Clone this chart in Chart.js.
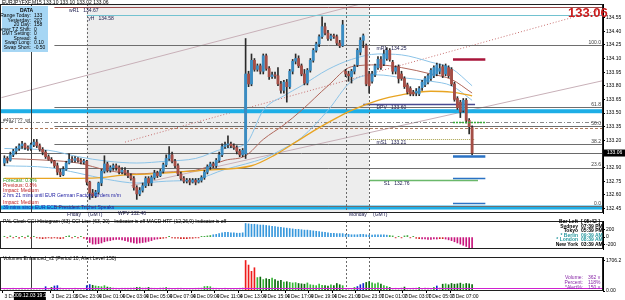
<!DOCTYPE html>
<html><head><meta charset="utf-8">
<script src="https://cdn.jsdelivr.net/npm/chart.js@4.4.1/dist/chart.umd.min.js"></script>
<style>
html,body{margin:0;padding:0;background:#fff;width:625px;height:300px;overflow:hidden;font-family:'Liberation Sans',Arial,sans-serif;}
canvas{position:absolute;left:0;}
.t{position:absolute;white-space:nowrap;font-size:5px;line-height:5px;color:#000;}
#data{position:absolute;left:2px;top:6px;width:46px;height:46px;background:#a6d6f4;}
</style></head><body>
<canvas id="c1" width="625" height="217" style="top:0"></canvas>
<canvas id="c2" width="625" height="36" style="top:217px"></canvas>
<canvas id="c3" width="625" height="47" style="top:253px"></canvas>
<div id="data"></div>
<div id="ov"></div>
<script>
// ---------------- DATA (EURJPY M15, 3 Dec 17:00 -> 7 Dec 08:45 GMT) ----------------
const opens=[132.95,133.00,132.98,133.04,133.08,133.11,133.14,133.16,133.12,133.11,133.15,133.18,133.14,133.10,133.07,133.02,132.99,132.97,132.92,132.85,
132.82,132.88,132.95,132.99,132.98,133.00,132.98,132.96,132.97,132.74,132.62,132.59,132.63,132.73,132.86,132.94,132.87,132.90,132.92,132.90,
132.85,132.87,132.84,132.81,132.78,132.68,132.61,132.65,132.70,132.78,132.73,132.79,132.84,132.81,132.86,132.93,133.00,133.04,132.97,132.92,
132.83,132.78,132.75,132.76,132.74,132.76,132.74,132.76,132.79,132.85,132.91,132.94,132.92,132.98,133.04,133.13,133.15,133.16,133.14,133.12,
133.08,133.04,133.05,133.93,133.82,134.08,133.98,134.02,133.96,134.13,133.99,133.90,133.92,133.91,133.82,133.75,133.84,133.79,133.96,134.07,
134.10,134.02,133.93,133.83,133.97,134.08,134.19,134.26,134.34,134.45,134.38,134.32,134.35,134.34,134.27,134.24,133.96,133.93,133.90,133.96,
134.03,134.17,134.30,134.24,133.93,133.85,133.92,134.00,134.09,134.04,134.10,134.19,134.06,133.96,134.01,133.93,133.88,133.81,133.77,133.73,
133.72,133.71,133.78,133.81,133.84,133.88,133.91,133.93,133.96,134.01,133.93,134.00,133.98,133.82,133.66,133.62,133.53,133.64,133.42,133.34];
const highs=[133.03,133.02,133.07,133.10,133.13,133.16,133.19,133.17,133.14,133.17,133.21,133.21,133.16,133.12,133.09,133.04,133.01,132.98,132.95,132.88,
132.91,132.97,133.05,133.02,133.02,133.01,133.00,132.99,132.98,132.75,132.66,132.65,132.74,132.88,133.03,132.96,132.92,132.94,132.94,132.92,
132.90,132.90,132.87,132.83,132.80,132.70,132.68,132.73,132.80,132.80,132.81,132.87,132.86,132.88,132.95,133.04,133.13,133.07,132.99,132.94,
132.85,132.80,132.78,132.78,132.78,132.78,132.78,132.81,132.87,132.93,132.96,132.96,133.00,133.07,133.16,133.18,133.25,133.18,133.16,133.14,
133.10,133.11,134.32,133.96,134.15,134.10,134.04,134.04,134.15,134.15,134.01,133.95,133.95,134.00,133.85,133.86,133.87,133.98,134.09,134.15,
134.13,134.04,133.98,133.99,134.10,134.21,134.28,134.36,134.56,134.49,134.41,134.37,134.37,134.36,134.30,134.52,133.98,133.96,133.98,134.03,
134.21,134.33,134.37,134.26,133.96,133.96,134.04,134.12,134.12,134.19,134.22,134.21,134.08,134.02,134.03,133.96,133.90,133.83,133.79,133.75,
133.77,133.79,133.86,133.90,133.93,133.99,134.02,134.05,134.04,134.03,134.04,134.02,134.00,133.84,133.68,133.64,133.66,133.66,133.44,133.36];
const lows=[132.92,132.95,132.97,133.02,133.05,133.09,133.11,133.10,133.09,133.09,133.13,133.12,133.08,133.04,133.00,132.98,132.95,132.90,132.82,132.80,
132.81,132.87,132.94,132.96,132.96,132.96,132.94,132.94,132.71,132.55,132.57,132.57,132.61,132.70,132.84,132.85,132.85,132.87,132.87,132.83,
132.83,132.82,132.79,132.76,132.65,132.55,132.59,132.63,132.68,132.70,132.70,132.77,132.79,132.80,132.84,132.91,132.98,132.95,132.90,132.81,
132.76,132.73,132.73,132.71,132.73,132.71,132.73,132.74,132.77,132.83,132.88,132.90,132.90,132.96,133.02,133.11,133.12,133.12,133.10,133.05,
133.02,133.02,133.00,133.79,133.80,133.96,133.96,133.93,133.93,133.97,133.87,133.88,133.88,133.80,133.72,133.72,133.62,133.77,133.93,134.04,
134.00,133.91,133.81,133.81,133.95,134.06,134.17,134.23,134.32,134.36,134.30,134.30,134.32,134.25,134.22,134.23,133.90,133.85,133.83,133.93,
134.01,134.14,134.22,133.80,133.72,133.83,133.90,133.98,133.98,134.02,134.08,134.07,133.93,133.93,133.83,133.86,133.77,133.71,133.69,133.69,
133.69,133.69,133.75,133.79,133.82,133.86,133.89,133.91,133.93,133.89,133.91,133.89,133.80,133.63,133.54,133.45,133.51,133.39,133.27,133.04];
const closes=[133.00,132.98,133.04,133.08,133.11,133.14,133.16,133.12,133.11,133.15,133.18,133.14,133.10,133.07,133.02,132.99,132.97,132.92,132.85,132.82,
132.88,132.95,132.99,132.98,133.00,132.98,132.96,132.97,132.74,132.62,132.59,132.63,132.73,132.86,132.94,132.87,132.90,132.92,132.90,132.85,
132.87,132.84,132.81,132.78,132.68,132.61,132.65,132.70,132.78,132.73,132.79,132.84,132.81,132.86,132.93,133.00,133.04,132.97,132.92,132.83,
132.78,132.75,132.76,132.74,132.76,132.74,132.76,132.79,132.85,132.91,132.94,132.92,132.98,133.04,133.13,133.15,133.16,133.14,133.12,133.08,
133.04,133.09,133.93,133.82,134.08,133.98,134.02,133.96,134.13,133.99,133.90,133.92,133.91,133.82,133.75,133.84,133.79,133.96,134.07,134.10,
134.02,133.93,133.83,133.97,134.08,134.19,134.26,134.34,134.45,134.38,134.32,134.35,134.34,134.27,134.24,134.47,133.93,133.91,133.96,134.01,
134.19,134.30,134.35,133.82,133.80,133.93,134.02,134.09,134.00,134.15,134.19,134.09,133.96,134.00,133.88,133.88,133.79,133.73,133.71,133.71,
133.74,133.77,133.84,133.88,133.91,133.97,134.00,134.03,133.99,133.91,134.02,133.91,133.82,133.65,133.56,133.51,133.64,133.42,133.35,133.06];

// moving averages read at sample candles
const emaIdx=[0,16,33,41,50,67,84,92,99,106,112,118,127,135,145,152,159];
const emaVals=[132.78,132.78,132.79,132.82,132.83,132.87,132.92,133.04,133.18,133.32,133.43,133.53,133.64,133.70,133.74,133.73,133.69];
const bandIdx=[0,15,25,35,45,55,65,75,82,88,95,101,110,118,127,135,145,152,159];
const bandUpper=[133.11,133.09,133.02,132.97,132.95,132.97,133.00,133.11,133.16,133.53,133.69,133.80,133.98,134.09,134.15,134.14,134.06,133.99,133.80];
const bandMiddle=[133.00,132.98,132.95,132.87,132.83,132.85,132.87,132.98,133.03,133.21,133.37,133.53,133.80,134.01,134.03,134.00,133.93,133.87,133.72];
const bandLower=[132.92,132.90,132.84,132.77,132.73,132.75,132.77,132.88,132.94,133.00,133.11,133.23,133.53,133.85,133.92,133.89,133.85,133.80,133.64];

// CCI histogram (63)
const cciValues=[20,-20,30,-20,20,-30,20,-20,30,-30,20,-20,-30,-40,-30,-20,-30,-20,-30,-40,-30,20,30,-20,20,-20,20,-30,
-60,-140,-180,-180,-170,-150,-120,-100,-90,-70,-60,-60,-70,
-90,-110,-130,-150,-160,-150,-140,-130,-110,-90,
-60,-50,-40,-30,-20,20,-20,-30,-30,-40,-40,-40,-30,-30,-20,-20,20,20,30,40,
60,70,90,110,120,120,110,110,100,100,110,
350,340,330,330,320,310,310,300,290,280,270,260,250,240,230,220,210,200,200,190,180,180,170,160,150,140,130,120,110,
100,100,90,90,90,
70,70,60,60,60,70,70,60,50,50,60,60,60,60,50,40,
30,-20,20,-20,30,40,-20,20,-30,
-40,-50,-50,-60,-60,-50,-50,-40,-40,-50,
-70,-90,-120,-150,-180,-210,-240,-270,-300];
const cciTicks=[200,0,-200];

// Volumes
const volumes=[130,150,120,160,140,130,170,150,140,160,130,150,140,120,
240,150,200,280,300,180,
140,150,130,120,160,140,130,150,
300,360,320,280,
260,240,300,220,200,180,160,150,170,
160,170,180,190,200,210,180,190,200,170,160,150,180,190,200,170,150,140,160,170,150,140,130,150,160,170,180,250,260,240,
170,160,150,140,160,150,130,140,150,160,180,
1706.2,1450,1100,1300,750,
780,640,690,650,720,640,550,600,500,520,480,450,470,420,400,380,450,350,330,300,380,320,300,280,350,300,420,350,300,
120,130,140,200,250,350,420,480,520,460,400,450,380,300,250,200,
150,160,140,180,220,150,140,160,170,210,150,180,160,140,200,280,180,
380,400,350,420,380,400,440,380,420,400,362];
const churnBars=[14,17,18,28,29,120,121,122,147];
const volAlertLevel=150;
const volTicks=[1706.2,0];

// price axis
const priceTicks=[134.55,134.40,134.25,134.10,133.95,133.80,133.65,133.50,133.35,133.20,132.90,132.75,132.60,132.45];
const currentPrice=133.06;

// time axis labels (candle index -> text)
const tickCandles=[0,16,24,32,40,48,56,64,72,80,88,96,104,112,120,128,136,144,152];
const tickText=['3 Dec 17:00','3 Dec 21:00','3 Dec 23:00','4 Dec 01:00','4 Dec 03:00','4 Dec 05:00','4 Dec 07:00','4 Dec 09:00','4 Dec 11:00','4 Dec 13:00','4 Dec 15:00','4 Dec 17:00','4 Dec 19:00','4 Dec 21:00','6 Dec 23:00','7 Dec 01:00','7 Dec 03:00','7 Dec 05:00','7 Dec 07:00'];

// levels
const fibValues=[134.25,133.57,133.36,133.16,132.90,132.48];
const fibNames=['100.0','61.8','50.0','38.2','23.6','0.0'];
const pivotNames=['wR1','yH','mR1','DPV','mS1','S1'];
const pivotValues=[134.67,134.58,134.25,133.60,133.21,132.76];
const roundLevels=[133.52,132.46];
const dashLevels=[133.40,133.33];
const markLevels=[134.09,133.40,133.03,132.79,132.51];
// trendlines [candleA, priceA, candleB, priceB]
const trendLines=[[-1,133.67,121,134.70],[43,132.70,204,133.86],[41,133.18,204,134.65]];
// session marks (candle index): cursor, Friday, Monday open, Monday GMT
const cursorCandle=9, fridayCandle=28, mondayOpenCandle=116, mondayGmtCandle=124;

// ---------------- BUILD ----------------
const LEAD=1, FUTURE=44, NS=LEAD+closes.length+FUTURE;
const labels=new Array(NS).fill('');
tickCandles.forEach((c,i)=>labels[c+LEAD]=tickText[i]);
const padArr=a=>[...new Array(LEAD).fill(null),...a,...new Array(FUTURE).fill(null)];
const sparse=(idx,vals)=>{const a=new Array(closes.length).fill(null);idx.forEach((c,i)=>a[c]=vals[i]);return padArr(a);};
const cx=c=>c+LEAD;
const UP='#3a8cc2',DN='#a44e46';

Chart.defaults.font.family="'Liberation Sans',Arial,sans-serif";
Chart.defaults.font.size=5;
Chart.defaults.color='#000';

const xCommon=(display)=>({type:'category',labels:labels,offset:true,display:display,
  grid:{display:display,drawOnChartArea:false,tickLength:2,color:c=>(c.tick&&c.tick.label)?'#000':'rgba(0,0,0,0)'},
  border:{display:false},
  ticks:{autoSkip:false,maxRotation:0,minRotation:0,align:'start',padding:1,font:{size:5}},
  afterFit:s=>{if(display)s.height=9;}});
const yCommon=(min,max,ticks,fmt)=>({position:'right',min:min,max:max,
  afterBuildTicks:s=>{s.ticks=ticks.map(v=>({value:v}));},
  afterFit:s=>{s.width=22;},
  grid:{drawOnChartArea:false,tickLength:2,color:'#000'},
  border:{display:true,color:'#000'},
  ticks:{padding:1,font:{size:5},callback:fmt}});

function vline(ctx,a,x,dash,color){ctx.save();ctx.strokeStyle=color;ctx.lineWidth=1;ctx.setLineDash(dash);ctx.beginPath();const xx=Math.round(x)+0.5;ctx.moveTo(xx,a.top);ctx.lineTo(xx,a.bottom);ctx.stroke();ctx.restore();}
function sessionLines(chart){const {ctx,chartArea:a,scales:{x}}=chart;
  [fridayCandle,mondayOpenCandle,mondayGmtCandle].forEach(c=>vline(ctx,a,x.getPixelForValue(cx(c)),[2,2],'#6a6a6a'));
  vline(ctx,a,x.getPixelForValue(cx(cursorCandle)),[],'#3a3a3a');}
function border(chart){const {ctx,chartArea:a}=chart;ctx.save();ctx.strokeStyle='#202020';ctx.lineWidth=1;ctx.strokeRect(a.left+0.5,a.top+0.5,a.width-1,a.height-1);ctx.restore();}
function hline(ctx,x0,x1,y,color,w,dash){ctx.save();ctx.strokeStyle=color;ctx.lineWidth=w;ctx.setLineDash(dash||[]);ctx.beginPath();const yy=w%2?Math.round(y)+0.5:Math.round(y);ctx.moveTo(x0,yy);ctx.lineTo(x1,yy);ctx.stroke();ctx.restore();}

const pivotStyle={wR1:{c:'#9a4a4a',w:1,from:17,lab:22,pos:'below'},yH:{c:'#72c2d0',w:1,from:28,lab:28.5,pos:'below'},
  mR1:{c:'#6a6a6a',w:1,from:124,lab:126.5,pos:'below'},DPV:{c:'#4a4a90',w:1.5,from:122,to:160,lab:126.5,pos:'below'},
  mS1:{c:'#a6a048',w:1,from:124,to:160,lab:126.5,pos:'below',dash:[1,1]},S1:{c:'#6ab86a',w:1.5,from:124,to:161,lab:129,pos:'below'}};
const markStyle=[{c:'#a8153a',w:2.5,dash:[]},{c:'#3aa83a',w:1.5,dash:[2,1]},{c:'#2a72c4',w:2.5,dash:[]},{c:'#2a72c4',w:1.5,dash:[]},{c:'#2a72c4',w:1.5,dash:[]}];

const mainDeco={id:'mainDeco',
 beforeDatasetsDraw(chart){
  const {ctx,chartArea:a,scales:{x,y}}=chart;
  ctx.save();ctx.beginPath();ctx.rect(a.left,a.top,a.width,a.height);ctx.clip();
  const s0=x.getPixelForValue(cx(fridayCandle)),s1=x.getPixelForValue(cx(mondayGmtCandle));
  ctx.fillStyle='#ededed';ctx.fillRect(s0,a.top,s1-s0,a.height);
  const tlStyle=[{c:'#c8b0b8',d:[]},{c:'#c8b0b8',d:[]},{c:'#c87070',d:[1,2]}];
  trendLines.forEach((t,i)=>{ctx.save();ctx.strokeStyle=tlStyle[i].c;ctx.lineWidth=1;ctx.setLineDash(tlStyle[i].d);ctx.beginPath();
    ctx.moveTo(x.getPixelForValue(cx(t[0])),y.getPixelForValue(t[1]));ctx.lineTo(x.getPixelForValue(cx(t[2])),y.getPixelForValue(t[3]));ctx.stroke();ctx.restore();});
  roundLevels.forEach(v=>{const yy=y.getPixelForValue(v);ctx.fillStyle='#1eaee6';ctx.fillRect(a.left,yy-2,a.width,4);});
  const fx0=x.getPixelForValue(cx(17));
  fibValues.forEach(v=>hline(ctx,fx0,a.right,y.getPixelForValue(v),'#6e6e6e',1));
  hline(ctx,a.left,a.right,y.getPixelForValue(dashLevels[0]),'#8a8a8a',1,[4,2,1,2]);
  hline(ctx,a.left,a.right,y.getPixelForValue(dashLevels[1]),'#b07a5a',1,[3,2]);
  hline(ctx,a.left,a.right,y.getPixelForValue(currentPrice),'#6a6a6a',1);
  pivotNames.forEach((n,i)=>{const st=pivotStyle[n];const x0=x.getPixelForValue(cx(st.from));const x1=st.to?x.getPixelForValue(cx(st.to)):a.right;
    if(n!=='mR1')hline(ctx,x0,x1,y.getPixelForValue(pivotValues[i]),st.c,st.w,st.dash);});
  ctx.restore();
  sessionLines(chart);
 },
 afterDatasetsDraw(chart){
  const {ctx,chartArea:a,scales:{x,y}}=chart;
  ctx.save();
  markLevels.forEach((v,i)=>{const st=markStyle[i];hline(ctx,x.getPixelForValue(cx(152.5)),x.getPixelForValue(cx(163.5)),y.getPixelForValue(v),st.c,st.w,st.dash);});
  ctx.font="5px 'Liberation Sans'";ctx.textBaseline='top';
  pivotNames.forEach((n,i)=>{const st=pivotStyle[n];const yy=y.getPixelForValue(pivotValues[i]);ctx.fillStyle='#202050';
    ctx.textAlign='left';ctx.fillText(n+'   '+pivotValues[i].toFixed(2),x.getPixelForValue(cx(st.lab)),yy+1);});
  ctx.textBaseline='bottom';ctx.textAlign='right';ctx.fillStyle='#404040';
  fibValues.forEach((v,i)=>ctx.fillText(fibNames[i],a.right-2,y.getPixelForValue(v)));
  ctx.restore();
 },
 afterDraw(chart){
  const {ctx,chartArea:a,scales:{y}}=chart;border(chart);
  const yy=y.getPixelForValue(currentPrice);ctx.save();ctx.fillStyle='#000';ctx.fillRect(a.right+1,yy-3.5,21,7);
  ctx.fillStyle='#fff';ctx.font="5px 'Liberation Sans'";ctx.textAlign='left';ctx.textBaseline='middle';ctx.fillText(currentPrice.toFixed(2),a.right+4,yy);ctx.restore();
 }};

new Chart(document.getElementById('c1'),{type:'bar',
 data:{labels:labels,datasets:[
  {type:'line',data:sparse(bandIdx,bandUpper),borderColor:'#8cc4e8',borderWidth:1,pointRadius:0,spanGaps:true,cubicInterpolationMode:'monotone',order:5},
  {type:'line',data:sparse(bandIdx,bandMiddle),borderColor:'#b0685c',borderWidth:1,pointRadius:0,spanGaps:true,cubicInterpolationMode:'monotone',order:5},
  {type:'line',data:sparse(bandIdx,bandLower),borderColor:'#8cc4e8',borderWidth:1,pointRadius:0,spanGaps:true,cubicInterpolationMode:'monotone',order:5},
  {type:'line',data:sparse(emaIdx,emaVals),borderColor:'#e8a422',borderWidth:1.3,pointRadius:0,spanGaps:true,cubicInterpolationMode:'monotone',order:4},
  {data:padArr(lows.map((l,i)=>[l,highs[i]])),backgroundColor:'#2a2a2a',barThickness:1,grouped:false,order:2},
  {data:padArr(opens.map((o,i)=>[o,closes[i]])),backgroundColor:padArr(opens.map((o,i)=>closes[i]>=o?UP:DN)),barThickness:2.2,minBarLength:1,grouped:false,order:1}
 ]},
 options:{responsive:false,animation:false,events:[],layout:{padding:0},
  plugins:{legend:{display:false},tooltip:{enabled:false}},
  scales:{x:xCommon(false),y:yCommon(132.40,134.70,priceTicks,v=>v.toFixed(2))}},
 plugins:[mainDeco]});

const cciColors=cciValues.map(v=>v>=50?'#3898dc':v<=-50?'#c8157c':v>0?'#3aa83a':'#d02020');
new Chart(document.getElementById('c2'),{type:'bar',
 data:{labels:labels,datasets:[{data:padArr(cciValues),backgroundColor:padArr(cciColors),barThickness:1,grouped:false}]},
 options:{responsive:false,animation:false,events:[],layout:{padding:0},
  plugins:{legend:{display:false},tooltip:{enabled:false}},
  scales:{x:xCommon(false),y:yCommon(-306,414,cciTicks,v=>String(v))}},
 plugins:[{id:'cciDeco',beforeDatasetsDraw(chart){sessionLines(chart);},afterDraw(chart){border(chart);}}]});

const volColors=volumes.map((v,i)=>v>=1000?'#ee1c1c':churnBars.includes(i)?'#1428c8':v<200?'#c4c4c4':closes[i]>=opens[i]?'#36b436':'#0c6a0c');
new Chart(document.getElementById('c3'),{type:'bar',
 data:{labels:labels,datasets:[{data:padArr(volumes),backgroundColor:padArr(volColors),barThickness:1,grouped:false}]},
 options:{responsive:false,animation:false,events:[],layout:{padding:0},
  plugins:{legend:{display:false},tooltip:{enabled:false}},
  scales:{x:xCommon(true),y:yCommon(0,1900,volTicks,v=>v===0?'0.00':v.toFixed(1))}},
 plugins:[{id:'volDeco',
  beforeDatasetsDraw(chart){sessionLines(chart);},
  afterDatasetsDraw(chart){const {ctx,chartArea:a,scales:{y}}=chart;hline(ctx,a.left,a.right,y.getPixelForValue(volAlertLevel),'#d020d0',1);},
  afterDraw(chart){border(chart);const {ctx,chartArea:a,scales:{x}}=chart;const xx=x.getPixelForValue(cx(cursorCandle));
   ctx.save();ctx.fillStyle='#000';ctx.fillRect(xx-17,a.bottom+1,32,8);ctx.fillStyle='#fff';ctx.font="5px 'Liberation Sans'";ctx.textAlign='center';ctx.textBaseline='middle';
   ctx.fillText('2009.12.03 19:15',xx-1,a.bottom+5);ctx.restore();}}]});

// ---------------- static texts ----------------
const texts=[
 ['EURJPYFXF,M15  133.10 133.10 133.02 133.06',2,0,'#000',''],
 ['DATA',20,8,'#000','font-weight:bold'],
 ['133.06',568,6,'#cc1c1c','font-size:13px;line-height:13px;font-weight:bold'],
 ['Forecast: 0.8%',3,178,'#2a9a2a',''],
 ['Previous: 0.8%',3,183,'#c02020',''],
 ['Impact: Medium',3,188,'#c02020',''],
 ['2 hrs 21 mins until EUR German Factory Orders m/m',3,193,'#1a1aa0',''],
 ['Impact: Medium',3,200,'#c02020',''],
 ['39 mins since EUR ECB President Trichet Speaks',3,205,'#1a1aa0',''],
 ['#4927??_wt',3,118,'#404040',''],
 ['Friday',67,212,'#202050',''],['(GMT)',88,212,'#202050',''],
 ['WPV   132.46',118,211,'#202050',''],
 ['Monday',349,212,'#202050',''],['(GMT)',373,212,'#202050',''],
 ['PAL Clock    CCI Histogram (63)    CCI Line (63, 20) - Indicator is off    MACD HTF (12,26,9)    Indicator is off',3,219,'#000',''],
 ['Volumes Enhanced_v2  (Period 10, Alert Level 150)',3,256,'#000',''],
];
const dataRows=[['Range Today:','133'],['Yesterday:','207'],['20 Day:','158'],['Server TZ Shift:','0'],['to GMT Setting:','0'],['Spread:','4'],['Swap Long:','0.10'],['Swap Short:','-0.50']];
const clockRows=[['Bar Left','[ 05:42 ]','#000'],['Sydney','07:39 PM','#000'],['Tokyo','05:39 PM','#000'],['* Berlin','09:39 AM','#2a9aa0'],['* London','08:39 AM','#2a9aa0'],['New York','03:39 AM','#000']];
const volRows=[['Volume:','362 v'],['Percent:','118%'],['*Alert%:','150 v']];
const ov=document.getElementById('ov');
function addText(t,x,y,c,extra,align){const d=document.createElement('div');d.className='t';d.textContent=t;d.style.cssText+=`left:${x}px;top:${y}px;color:${c};${extra||''}`;if(align==='r'){d.style.left='auto';d.style.right=(625-x)+'px';}ov.appendChild(d);}
texts.forEach(t=>addText(...t));
dataRows.forEach((r,i)=>{addText(r[0],31,13+i*4.5,'#000','','r');addText(r[1],34,13+i*4.5,'#000','');});
clockRows.forEach((r,i)=>{addText(r[0],578,219+i*4.5,r[2],'font-weight:bold','r');addText(r[1],581,219+i*4.5,r[2],'font-weight:bold');});
volRows.forEach((r,i)=>{addText(r[0],583,275+i*5,'#8a2aa8','','r');addText(r[1],588,275+i*5,'#8a2aa8','');});
</script></body></html>
